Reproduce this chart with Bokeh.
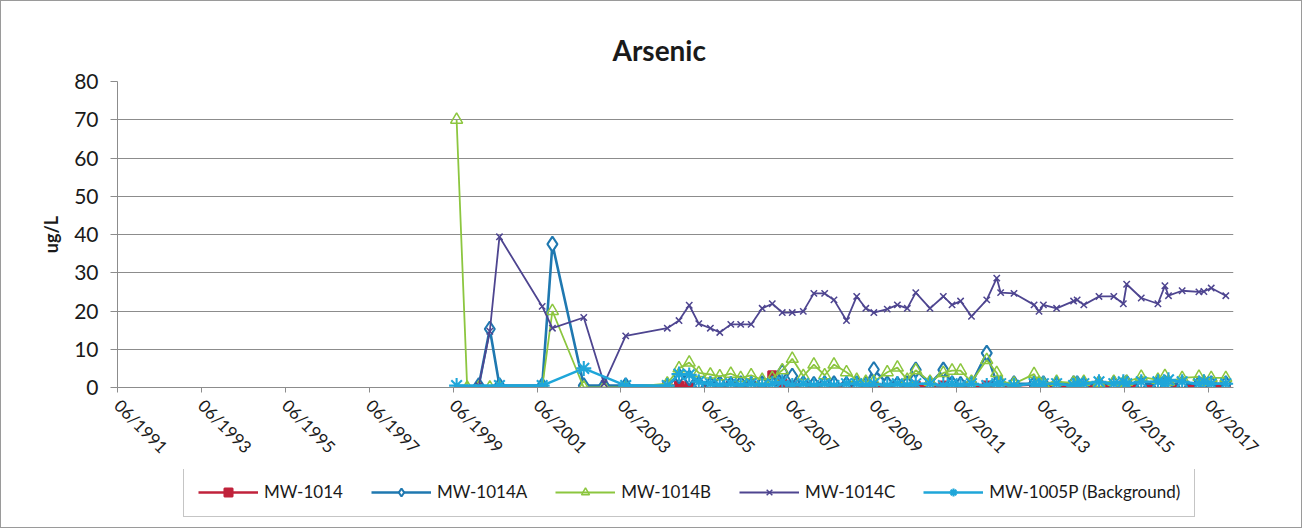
import math
import datetime as dt
from bokeh.plotting import figure
from bokeh.layouts import column
from bokeh.models import (Range1d, FixedTicker, DatetimeTickFormatter, Legend,
                          LegendItem, Title, ColumnDataSource)
from bokeh.embed import file_html
from bokeh.resources import INLINE

# ---------------- data ----------------
dates = [
    "1999-07-01", "1999-10-01", "2000-01-10", "2000-04-15", "2000-07-08",
    "2001-07-15", "2001-10-12", "2002-07-12", "2003-01-05", "2003-07-12",
    "2004-07-08", "2004-10-18", "2005-01-15", "2005-04-08", "2005-07-18",
    "2005-10-08", "2006-01-12", "2006-04-08", "2006-07-08", "2006-10-12",
    "2007-01-08", "2007-04-05", "2007-07-01", "2007-10-05", "2008-01-05",
    "2008-04-08", "2008-06-28", "2008-10-15", "2009-01-12", "2009-04-01",
    "2009-06-10", "2009-10-05", "2010-01-01", "2010-03-28", "2010-06-10",
    "2010-10-12", "2011-02-05", "2011-04-22", "2011-07-05", "2011-10-08",
    "2012-02-18", "2012-05-15", "2012-06-18", "2012-10-12", "2013-04-05",
    "2013-05-18", "2013-06-25", "2013-10-18", "2014-03-15", "2014-04-15",
    "2014-06-12", "2014-10-22", "2015-02-28", "2015-05-22", "2015-06-20",
    "2015-10-25", "2016-03-18", "2016-05-18", "2016-06-18", "2016-10-15",
    "2017-03-10", "2017-04-22", "2017-06-25", "2017-10-30",
]

mw_1014 = [
    None, None, None, None, None, None, None, None, None, None,
    0.5, 0.5, 0.5, 0.5, 0.5, 0.5, 0.5, 0.5, 0.5, 0.8,
    3.2, 1.2, 0.5, 0.5, 0.5, 0.5, 0.5, 0.3, 0.5, 0.5,
    0.3, 0.5, 0.5, 0.5, 0.5, 0.5, 0.5, 0.5, 0.5, 0.5,
    0.5, 0.5, 0.5, 0.5, 0.8, 0.5, 0.5, 0.5, 0.5, 0.5,
    0.5, 0.5, 0.5, 0.5, 0.5, 0.5, 0.5, 0.5, 0.5, 0.5,
    0.5, 0.5, 0.5, 0.5,
]
mw_1014a = [
    None, None, 0.5, 15.3, 0.5, 0.5, 37.5, 0.5, 0.5, 0.5,
    0.5, 3.0, 2.5, 1.0, 0.8, 1.0, 0.8, 1.0, 0.8, 1.0,
    1.0, 4.0, 3.0, 1.0, 0.8, 1.0, 1.0, 0.8, 1.0, 0.8,
    4.7, 1.0, 0.8, 1.0, 4.6, 1.0, 4.6, 1.0, 0.8, 1.0,
    9.0, 1.0, 0.8, 1.0, 1.0, 0.8, 1.0, 0.8, 1.0, 1.0,
    0.8, 1.0, 1.0, 0.8, 1.2, 1.0, 1.0, 1.2, 1.0, 1.0,
    1.0, 1.2, 1.0, 1.0,
]
mw_1014b = [
    70.0, 0.0, 0.0, 0.0, 0.0, 0.0, 20.0, 0.0, 0.0, 0.0,
    1.0, 5.0, 6.5, 3.8, 3.4, 2.9, 3.6, 2.5, 3.2, 2.0,
    2.5, 4.5, 7.5, 3.0, 6.0, 3.2, 6.0, 4.0, 2.0, 1.5,
    1.5, 4.0, 5.2, 2.0, 4.5, 1.5, 3.8, 4.4, 4.4, 1.5,
    7.2, 3.8, 1.5, 1.0, 3.5, 1.2, 1.0, 1.5, 1.2, 1.0,
    1.5, 1.2, 1.5, 1.2, 1.5, 2.8, 2.0, 3.0, 1.5, 2.5,
    2.8, 1.5, 2.5, 2.5,
]
mw_1014c = [
    None, None, 0.5, 14.7, 39.4, 21.2, 15.5, 18.3, 1.0, 13.5,
    15.5, 17.5, 21.5, 16.7, 15.5, 14.4, 16.5, 16.5, 16.5, 20.7,
    21.9, 19.6, 19.6, 19.9, 24.6, 24.6, 22.9, 17.5, 23.8, 20.7,
    19.6, 20.5, 21.6, 20.7, 24.8, 20.7, 23.8, 21.6, 22.6, 18.6,
    22.9, 28.6, 24.8, 24.6, 21.6, 19.9, 21.6, 20.7, 22.6, 22.9,
    21.6, 23.8, 23.8, 21.9, 27.0, 23.4, 21.9, 26.6, 24.0, 25.3,
    25.0, 25.1, 26.0, 24.0,
]
mw_1005p = [
    0.5, None, None, None, 0.5, 0.5, None, 5.0, None, 0.5,
    0.5, 3.5, 3.3, 1.5, 1.0, 0.5, 1.0, 0.5, 1.0, 0.5,
    1.0, 1.5, 0.5, 1.0, 0.5, 1.0, 0.5, 1.0, 1.0, 0.5,
    1.0, 0.5, 1.0, 0.5, 1.0, 1.0, 0.5, 1.0, 0.5, 1.0,
    0.5, 1.0, 1.0, 0.5, 1.0, 0.5, 1.0, 1.0, 0.5, 1.0,
    1.0, 1.5, 1.0, 1.5, 1.0, 1.5, 1.5, 1.0, 2.0, 1.5,
    1.0, 1.5, 1.0, 1.0,
]

series_names = ["MW-1014", "MW-1014A", "MW-1014B", "MW-1014C", "MW-1005P (Background)"]
series_values = [mw_1014, mw_1014a, mw_1014b, mw_1014c, mw_1005p]

tick_dates = ["1991-06-01", "1993-06-01", "1995-06-01", "1997-06-01", "1999-06-01",
              "2001-06-01", "2003-06-01", "2005-06-01", "2007-06-01", "2009-06-01",
              "2011-06-01", "2013-06-01", "2015-06-01", "2017-06-01"]
y_ticks = [0, 10, 20, 30, 40, 50, 60, 70, 80]
x_start, x_end = "1991-06-01", "2018-01-05"

# ---------------- styles ----------------
styles = [
    dict(color="#c0223b", marker="square", size=8, lw=2.6, fill="#c0223b"),
    dict(color="#1f78b0", marker="diamond", size=15, lw=2.6, fill="white"),
    dict(color="#8cc63f", marker="triangle", size=12, lw=1.8, fill=None),
    dict(color="#4e4590", marker="x", size=9, lw=1.8, fill=None),
    dict(color="#1fa6d9", marker="asterisk", size=15, lw=2.6, fill=None),
]

FONT = "Lato"
GRID = "#8c8c8c"
TXT = "#1a1a1a"
W = 1300


def to_dt(s):
    return dt.datetime.strptime(s, "%Y-%m-%d")


def to_ms(s):
    return (to_dt(s) - dt.datetime(1970, 1, 1)).total_seconds() * 1000.0


# ---------------- main chart ----------------
p = figure(width=W, height=468, x_axis_type="datetime",
           output_backend="svg", toolbar_location=None,
           x_range=Range1d(to_dt(x_start), to_dt(x_end)),
           y_range=Range1d(0, 80),
           min_border_left=116, min_border_right=68,
           min_border_top=80, min_border_bottom=82)
p.outline_line_color = None
p.background_fill_color = "white"
p.border_fill_color = "white"

title = Title(text="Arsenic", align="left", offset=495, text_font=FONT,
              text_font_style="bold", text_font_size="28px", text_color=TXT,
              standoff=30)
p.add_layout(title, "above")

p.xgrid.grid_line_color = None
p.ygrid.grid_line_color = GRID
p.ygrid.grid_line_width = 1

p.yaxis.ticker = FixedTicker(ticks=y_ticks)
p.yaxis.axis_label = "ug/L"
p.yaxis.axis_label_text_font = FONT
p.yaxis.axis_label_text_font_style = "bold"
p.yaxis.axis_label_text_font_size = "18px"
p.yaxis.axis_label_text_color = TXT
p.yaxis.axis_label_standoff = 9
p.yaxis.major_label_text_font = FONT
p.yaxis.major_label_text_font_size = "21px"
p.yaxis.major_label_text_color = TXT
p.yaxis.major_label_standoff = 12
p.yaxis.major_tick_out = 7
p.yaxis.major_tick_in = 0
p.yaxis.minor_tick_line_color = None
p.yaxis.axis_line_color = GRID
p.yaxis.major_tick_line_color = GRID

p.xaxis.ticker = FixedTicker(ticks=[to_ms(d) for d in tick_dates])
p.xaxis.formatter = DatetimeTickFormatter(years="%m/%Y", months="%m/%Y", days="%m/%Y")
p.xaxis.major_label_orientation = -math.pi / 4
p.xaxis.major_label_text_font = FONT
p.xaxis.major_label_text_font_size = "17px"
p.xaxis.major_label_text_color = TXT
p.xaxis.major_label_standoff = 10
p.xaxis.major_tick_out = 5
p.xaxis.major_tick_in = 0
p.xaxis.minor_tick_line_color = None
p.xaxis.axis_line_color = GRID
p.xaxis.major_tick_line_color = GRID

for name, vals, st in zip(series_names, series_values, styles):
    xs = [to_dt(d) for d, v in zip(dates, vals) if v is not None]
    ys = [v for v in vals if v is not None]
    src = ColumnDataSource(data=dict(x=xs, y=ys))
    p.line("x", "y", source=src, line_color=st["color"], line_width=st["lw"])
    p.scatter("x", "y", source=src, marker=st["marker"], size=st["size"],
              line_color=st["color"], line_width=max(1.5, st["lw"] * 0.8),
              fill_color=st["fill"])

# ---------------- legend strip (frame aligned with the chart above) ----------------
lg = figure(width=W, height=58, output_backend="svg", toolbar_location=None,
            x_axis_location=None, y_axis_location=None,
            x_range=Range1d(0, 1), y_range=Range1d(0, 1),
            min_border_left=116, min_border_right=68, min_border_top=0, min_border_bottom=0)
lg.outline_line_color = None
lg.xgrid.grid_line_color = None
lg.ygrid.grid_line_color = None

items = []
for name, st in zip(series_names, styles):
    # legend-only renderers: their single point lies outside the visible range
    lr = lg.line([-5, -4], [-5, -4], line_color=st["color"], line_width=st["lw"])
    sr = lg.scatter([-5], [-5], marker=st["marker"], size=st["size"],
                    line_color=st["color"], line_width=max(1.5, st["lw"] * 0.8),
                    fill_color=st["fill"])
    items.append(LegendItem(label=name, renderers=[lr, sr]))

legend = Legend(items=items, orientation="horizontal", location=(66, 10))
legend.label_text_font = FONT
legend.label_text_font_size = "17px"
legend.label_text_color = TXT
legend.glyph_width = 60
legend.glyph_height = 20
legend.label_height = 20
legend.label_standoff = 6
legend.spacing = 28
legend.padding = 14
legend.margin = 0
legend.border_line_color = GRID
legend.border_line_width = 1
legend.background_fill_color = "white"
legend.background_fill_alpha = 1.0
lg.add_layout(legend)

layout = column(p, lg, spacing=0, styles={"border": "1px solid #9a9a9a"})
open("out.html", "w").write(file_html(layout, INLINE))
